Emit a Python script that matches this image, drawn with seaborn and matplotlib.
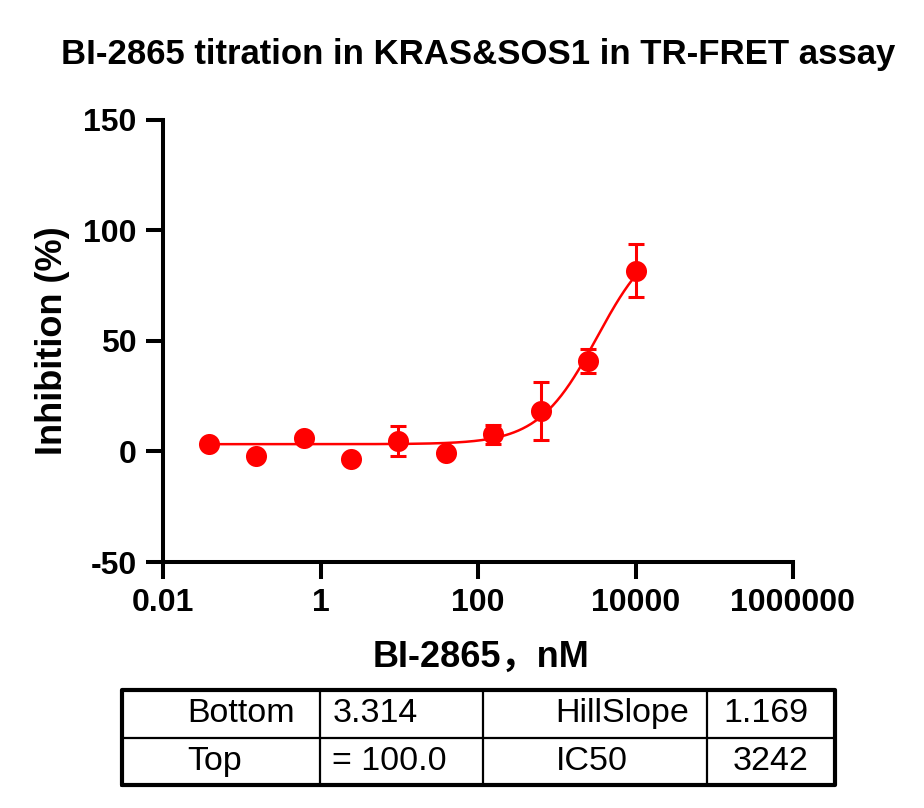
import numpy as np
import pandas as pd
import seaborn as sns
import matplotlib
matplotlib.use('Agg')
import matplotlib.pyplot as plt

sns.set_style("ticks", {"axes.edgecolor": "black", "text.color": "black",
                        "xtick.color": "black", "ytick.color": "black",
                        "axes.labelcolor": "black"})
plt.rcParams['font.family'] = ['Liberation Sans', 'Noto Sans CJK SC', 'DejaVu Sans']

# BI-2865, nM (4-fold dilution)
conc = [0.038, 0.153, 0.61, 2.44, 9.77, 39.06, 156.25, 625, 2500, 10000]
inhibition = [3.5, -1.9, 6.3, -3.5, 4.7, -0.8, 7.8, 18.4, 40.8, 81.8]
err = [0, 0, 0, 0, 6.8, 0, 4.2, 13.2, 5.5, 12.1]

# fit results
bottom = 3.314
top = 100.0
hill_slope = 1.169
ic50 = 3242

table_rows = [["Bottom", "3.314", "HillSlope", "1.169"],
              ["Top", "= 100.0", "IC50", "3242"]]

red = "#ff0000"

df = pd.DataFrame({"conc": conc, "inhibition": inhibition, "err": err})

xfit = np.logspace(np.log10(conc[0]), np.log10(conc[-1]), 300)
yfit = bottom + (top - bottom) / (1 + (ic50 / xfit) ** hill_slope)
fit = pd.DataFrame({"conc": xfit, "inhibition": yfit})

fig = plt.figure(figsize=(9.24, 8.08), dpi=100)
ax = fig.add_axes([163 / 924, 1 - 562 / 808, 630 / 924, 442 / 808])

sns.lineplot(data=fit, x="conc", y="inhibition", color=red, lw=1.8, ax=ax)
# error bars only where replicates differ
eb = df[df["err"] > 0]
ax.errorbar(eb["conc"], eb["inhibition"], yerr=eb["err"], fmt="none", ecolor=red,
            elinewidth=2.2, capsize=6, capthick=2.2)
sns.scatterplot(data=df, x="conc", y="inhibition", color=red, s=230,
                edgecolor=red, linewidth=0, zorder=3, ax=ax)

ax.set_xscale("log")
ax.set_xlim(0.01, 1e6)
ax.set_ylim(-50, 150)
ax.set_xticks([0.01, 1, 100, 10000, 1000000])
ax.set_xticklabels(["0.01", "1", "100", "10000", "1000000"])
ax.xaxis.set_minor_locator(matplotlib.ticker.NullLocator())
ax.set_yticks([-50, 0, 50, 100, 150])
ax.set_yticklabels(["-50", "0", "50", "100", "150"])
for lab in ax.get_xticklabels() + ax.get_yticklabels():
    lab.set_fontweight("bold")
    lab.set_fontsize(23)
ax.tick_params(width=2.9, length=12, pad=7, color="black")
sns.despine(ax=ax)
for side in ["left", "bottom"]:
    ax.spines[side].set_linewidth(2.9)

ax.set_xlabel("BI-2865，nM", fontsize=26, fontweight="bold")
ax.set_ylabel("Inhibition (%)", fontsize=26, fontweight="bold")
ax.xaxis.set_label_coords(0.505, -0.176)
ax.yaxis.set_label_coords(-0.148, 0.5)

fig.text(478 / 924, 1 - 64 / 808, "BI-2865 titration in KRAS&SOS1 in TR-FRET assay",
         ha="center", va="baseline", fontsize=25, fontweight="bold")

# parameter table
tx = fig.add_axes([122 / 924, 1 - 785 / 808, 713 / 924, 95 / 808])
tx.set_xlim(0, 1)
tx.set_ylim(0, 1)
tx.axis("off")
cols = [0, 0.277, 0.506, 0.82, 1]
tx.plot([0, 1, 1, 0, 0], [0, 0, 1, 1, 0], color="black", lw=3, clip_on=False)
tx.plot([0, 1], [0.5, 0.5], color="black", lw=1.6)
for c in cols[1:-1]:
    tx.plot([c, c], [0, 1], color="black", lw=1.6)
text_x = [(0.092, "left"), (0.295, "left"), (0.608, "left"), (0.963, "right")]
for r, row in enumerate(table_rows):
    yy = 0.75 - 0.5 * r
    for (xx, ha), s in zip(text_x, row):
        tx.text(xx, yy, s, ha=ha, va="center", fontsize=24.5)

fig.savefig("out.png", dpi=100)
